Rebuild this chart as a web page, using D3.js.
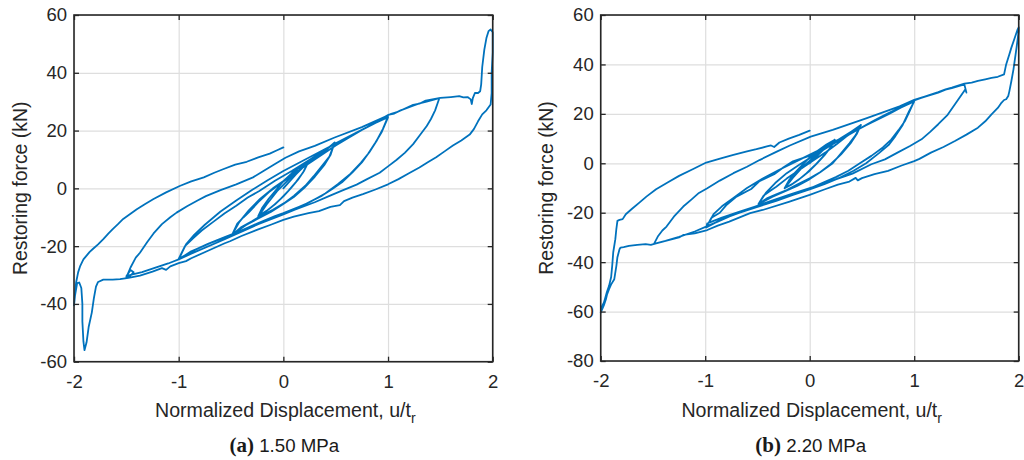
<!DOCTYPE html>
<html>
<head>
<meta charset="utf-8">
<script src="https://cdn.jsdelivr.net/npm/d3@7"></script>
<style>
  html, body { margin: 0; padding: 0; background: #ffffff; }
  svg { display: block; }
</style>
</head>
<body>
<svg id="chart" width="1024" height="460"></svg>
<script>
// ---------- tick labels ----------
const xTicks = [-2, -1, 0, 1, 2];
const yTicksA = [-60, -40, -20, 0, 20, 40, 60];
const yTicksB = [-80, -60, -40, -20, 0, 20, 40, 60];

// ---------- panel (a) 1.50 MPa : [u/tr, force kN] ----------
const a_init = [[0,0],[0.06,2.4],[0.12,4.8],[0.18,7],[0.24,9.2]];
const a_025_down = [[0.24,9.2],[0.2,6.2],[0.14,3],[0.07,0],[0,-2.8],[-0.08,-5.5],[-0.16,-7.8],[-0.24,-9.6]];
const a_025_up = [[-0.24,-9.6],[-0.2,-6.6],[-0.14,-3.6],[-0.07,-0.6],[0,2.5],[0.08,5.2],[0.16,7.4],[0.24,9.2]];
const a_025_down2 = [[0.24,9.2],[0.19,5.6],[0.12,2.2],[0.05,-0.8],[-0.03,-3.8],[-0.11,-6.4],[-0.18,-8.4],[-0.24,-9.8]];
const a_05_up1 = [[-0.24,-9.8],[-0.16,-5.6],[-0.06,-1],[0.06,3.4],[0.18,7.2],[0.3,10.4],[0.4,13.2],[0.49,15.8]];
const a_05_down = [[0.49,15.8],[0.44,11],[0.37,7.8],[0.29,4.2],[0.21,0.9],[0.1,-2.6],[0.02,-4.8],[-0.1,-7.4],[-0.21,-9.4],[-0.3,-11.4],[-0.4,-13.4],[-0.49,-16.1]];
const a_05_up = [[-0.49,-16.1],[-0.44,-12.2],[-0.38,-10],[-0.33,-8.3],[-0.24,-4.8],[-0.14,-1.4],[-0.03,1.6],[0.08,4.4],[0.19,7.3],[0.3,10.1],[0.4,13],[0.49,15.9]];
const a_05_down2 = [[0.49,15.9],[0.45,11.5],[0.39,8],[0.3,4],[0.2,0.2],[0.1,-3],[0,-5.4],[-0.12,-8.2],[-0.24,-10.4],[-0.36,-12.8],[-0.49,-16.1]];
const a_10_up1 = [[-0.49,-16.1],[-0.42,-11.6],[-0.33,-7.6],[-0.22,-3.6],[-0.1,0],[0.05,3.8],[0.2,7.6],[0.35,11.2],[0.5,14.8],[0.62,17.4],[0.75,20.2],[0.88,22.6],[1.0,24.6]];
const a_10_down = [[1.0,24.6],[0.94,19.5],[0.88,15.9],[0.81,12],[0.75,9],[0.66,5.5],[0.56,2.1],[0.46,-0.4],[0.37,-2.5],[0.18,-6],[0,-8.6],[-0.08,-9.6],[-0.24,-12],[-0.4,-14.6],[-0.56,-16.9],[-0.72,-19.2],[-0.85,-21.4],[-1.0,-24.4]];
const a_10_up = [[-1.0,-24.4],[-0.94,-20],[-0.86,-17.2],[-0.78,-14.6],[-0.67,-11.6],[-0.56,-8.6],[-0.45,-6],[-0.34,-3.2],[-0.23,-0.9],[-0.08,2.6],[0.08,6],[0.24,9.6],[0.4,13.4],[0.5,15.6],[0.62,17.8],[0.75,20.3],[0.87,22.5],[1.0,24.8]];
const a_10_down2 = [[1.0,24.8],[0.95,20.5],[0.89,16.4],[0.82,12.4],[0.74,8.8],[0.64,5],[0.52,1.4],[0.4,-1.8],[0.25,-4.8],[0.1,-7.2],[-0.1,-10.2],[-0.3,-13],[-0.5,-16.2],[-0.7,-19],[-0.88,-21.8],[-1.0,-24.6]];
const a_15_up1 = [[-1.0,-24.6],[-0.93,-19.4],[-0.85,-16],[-0.75,-12.6],[-0.6,-8],[-0.45,-4.2],[-0.3,-0.6],[-0.15,2.8],[0,6],[0.2,9.8],[0.4,13.6],[0.6,17.4],[0.8,21.2],[1.0,25.4],[1.06,25.9],[1.12,27],[1.24,28.6],[1.3,29.4],[1.36,29.9],[1.49,31.2]];
const a_15_down = [[1.49,31.2],[1.45,27],[1.41,24],[1.37,21.6],[1.3,18.2],[1.24,15.3],[1.16,12.3],[1.08,9.8],[1.0,7.6],[0.92,5.4],[0.8,3.2],[0.7,1.3],[0.56,-0.8],[0.43,-2.8],[0.3,-4.8],[0.11,-7.4],[0,-9],[-0.24,-12.4],[-0.56,-17.6],[-0.88,-22.6],[-1.0,-24.6],[-1.1,-26],[-1.2,-27.2],[-1.35,-29],[-1.44,-29.8],[-1.5,-30.4],[-1.46,-28.3],[-1.43,-29],[-1.47,-30.6],[-1.5,-30.8]];
const a_20_up = [[-1.5,-30.8],[-1.46,-27.4],[-1.41,-24],[-1.37,-22.3],[-1.3,-18.6],[-1.24,-15.6],[-1.16,-12.4],[-1.08,-10],[-1.02,-8.4],[-0.92,-6.2],[-0.82,-4.2],[-0.74,-2.7],[-0.6,-0.6],[-0.45,1.4],[-0.29,3.8],[-0.19,6],[-0.08,8.4],[0.02,10.6],[0.15,12.8],[0.3,14.7],[0.49,17.6],[0.75,21.2],[0.97,24.8],[1.03,25.8],[1.1,26.6],[1.24,28.9],[1.3,29.3],[1.36,30.4],[1.5,31.3],[1.6,31.6],[1.68,31.9],[1.72,31.5],[1.76,31.6],[1.79,30.8],[1.8,29.2],[1.81,31.2],[1.83,33],[1.86,33],[1.88,33.6],[1.89,36],[1.9,42],[1.92,48],[1.94,52],[1.96,54.4],[1.98,55],[2.0,54]];
const a_20_down = [[2.0,54],[2.0,47],[1.99,40],[1.99,33],[1.98,29],[1.94,27],[1.9,25.6],[1.86,23.2],[1.82,20.5],[1.78,18.6],[1.7,16.6],[1.62,14.8],[1.54,12.8],[1.46,10.8],[1.38,9],[1.3,7.2],[1.2,5.2],[1.1,3.2],[1.0,1.4],[0.88,-0.4],[0.76,-2],[0.66,-3.2],[0.58,-4.4],[0.54,-5.8],[0.45,-6.4],[0.34,-7.9],[0.24,-8.6],[0.1,-9.8],[0,-10.9],[-0.12,-12.6],[-0.24,-14.2],[-0.4,-16.5],[-0.51,-18.3],[-0.56,-19],[-0.72,-21.6],[-0.88,-24.2],[-0.93,-25.2],[-1.0,-25.9],[-1.08,-27],[-1.12,-28.2],[-1.16,-27.6],[-1.25,-28.8],[-1.37,-30.2],[-1.48,-31],[-1.56,-31.4],[-1.63,-31.6],[-1.72,-31.6],[-1.77,-32.4],[-1.79,-34],[-1.81,-38],[-1.83,-43],[-1.86,-48],[-1.88,-53.3],[-1.9,-56],[-1.91,-53],[-1.92,-46],[-1.92,-40],[-1.93,-34.5],[-1.95,-32.6],[-1.97,-32.8],[-1.99,-37],[-2.0,-40.5]];
const a_final = [[-2.0,-40.5],[-1.99,-36],[-1.98,-32.6],[-1.96,-29],[-1.94,-26.8],[-1.91,-24.6],[-1.88,-23.3],[-1.85,-22],[-1.82,-21],[-1.77,-19.4],[-1.72,-17.6],[-1.67,-15.6],[-1.63,-14.1],[-1.58,-12.4],[-1.53,-10.6],[-1.46,-8.8],[-1.4,-7.2],[-1.32,-5.4],[-1.24,-3.7],[-1.12,-1.4],[-0.99,0.8],[-0.88,2.4],[-0.76,3.8],[-0.66,5.4],[-0.57,6.7],[-0.46,8.2],[-0.35,9.2],[-0.24,10.7],[-0.13,12],[-0.06,13.2],[0,14.2]];

// ---------- panel (b) 2.20 MPa ----------
const b_init = [[0,0],[0.06,2.5],[0.12,5],[0.18,7.4],[0.24,9.5]];
const b_025_down = [[0.24,9.5],[0.2,6.4],[0.14,3.2],[0.07,0],[0,-3],[-0.08,-5.8],[-0.16,-8.2],[-0.24,-10.1]];
const b_025_up = [[-0.24,-10.1],[-0.2,-7],[-0.14,-3.8],[-0.07,-0.6],[0,2.4],[0.08,5.2],[0.16,7.6],[0.24,9.5]];
const b_025_down2 = [[0.24,9.5],[0.19,5.8],[0.12,2.4],[0.05,-0.8],[-0.03,-4],[-0.11,-6.8],[-0.18,-8.8],[-0.24,-10.1]];
const b_05_up1 = [[-0.24,-10.1],[-0.16,-5.8],[-0.06,-1.2],[0.06,3.2],[0.18,7],[0.3,10.2],[0.4,12.9],[0.49,15.5]];
const b_05_down = [[0.49,15.5],[0.44,11.4],[0.38,8.1],[0.3,4],[0.22,0],[0.1,-3.6],[0,-6.1],[-0.12,-8.6],[-0.22,-10.8],[-0.32,-12.6],[-0.41,-14.2],[-0.49,-16.5]];
const b_05_up = [[-0.49,-16.5],[-0.44,-13],[-0.38,-11.2],[-0.32,-9.5],[-0.22,-6.2],[-0.1,-2.7],[0.03,1],[0.16,4.7],[0.26,7.8],[0.35,10.8],[0.43,13.2],[0.49,15.5]];
const b_05_down2 = [[0.49,15.5],[0.45,11.8],[0.39,8],[0.3,3.6],[0.2,-0.4],[0.1,-3.6],[0,-6.4],[-0.12,-9.2],[-0.24,-11.4],[-0.36,-13.6],[-0.49,-16.5]];
const b_10_up1 = [[-0.49,-16.5],[-0.42,-12],[-0.33,-8],[-0.22,-4],[-0.1,-0.6],[0.05,3.4],[0.2,7.2],[0.35,11],[0.5,14.6],[0.62,17.4],[0.75,20.2],[0.88,22.8],[1.0,25.2]];
const b_10_down = [[1.0,25.2],[0.95,20.5],[0.91,17],[0.85,13.4],[0.78,9.6],[0.7,6.4],[0.59,3],[0.48,0],[0.37,-3],[0.25,-5.6],[0.14,-7.6],[0,-10.2],[-0.16,-12.6],[-0.32,-14.9],[-0.5,-17.2],[-0.67,-19.6],[-0.84,-22],[-0.98,-24.3],[-0.99,-26]];
const b_10_up = [[-0.99,-26],[-0.94,-22],[-0.86,-20],[-0.8,-17],[-0.7,-13.5],[-0.56,-10.4],[-0.48,-7.2],[-0.34,-4.4],[-0.25,-1.6],[-0.16,0.8],[0.01,3.2],[0.22,8.4],[0.38,11.8],[0.54,15.5],[0.7,19],[0.86,22.3],[1.0,25]];
const b_10_down2 = [[1.0,25],[0.95,21],[0.89,15.5],[0.82,11],[0.76,7.6],[0.66,4],[0.54,0],[0.42,-3],[0.29,-5.8],[0.14,-8.4],[0,-10.6],[-0.16,-12.8],[-0.32,-15.2],[-0.5,-17.6],[-0.67,-20],[-0.84,-22.6],[-0.99,-26]];
const b_15_up1 = [[-0.99,-26],[-0.92,-20.6],[-0.84,-17.4],[-0.73,-14],[-0.6,-10],[-0.45,-6.2],[-0.3,-2.8],[-0.1,1.4],[0.1,5.6],[0.3,10],[0.54,15.4],[0.75,19.8],[1.0,25.4],[1.06,26.4],[1.12,27.2],[1.23,28.6],[1.3,29.8],[1.36,30.4],[1.48,31.9]];
const b_15_down = [[1.48,31.9],[1.5,28.6],[1.49,30],[1.45,27.5],[1.39,23.9],[1.32,19.6],[1.23,15.8],[1.15,12.6],[1.07,9.7],[0.96,7],[0.84,4.3],[0.72,1.6],[0.59,-0.4],[0.41,-4.2],[0.27,-6.2],[0.12,-8.4],[0,-10],[-0.2,-12.8],[-0.41,-15.8],[-0.57,-18.2],[-0.73,-20.8],[-0.88,-23.6],[-0.98,-25.4],[-1.1,-27.6],[-1.25,-29.8],[-1.38,-31.4],[-1.49,-32.6]];
const b_20_up = [[-1.49,-32.6],[-1.45,-29.4],[-1.41,-27.2],[-1.37,-25.6],[-1.3,-21.6],[-1.21,-17.5],[-1.13,-14.6],[-1.06,-12],[-0.98,-10.1],[-0.86,-7],[-0.73,-4],[-0.6,-1.4],[-0.48,1.3],[-0.32,4.6],[-0.19,7.2],[0.01,10.8],[0.22,13.5],[0.54,18.2],[0.86,23],[1.0,25.7],[1.1,27],[1.23,28.8],[1.3,29.9],[1.36,30.6],[1.48,32.2],[1.55,32.6],[1.61,33.3],[1.68,34],[1.74,34.6],[1.8,35],[1.86,36],[1.88,40],[1.91,44],[1.93,46.8],[1.96,50.5],[1.99,54.2],[2.0,55]];
const b_20_down = [[2.0,55],[2.0,53.5],[1.98,47],[1.97,44],[1.95,38],[1.93,33.3],[1.91,29],[1.9,27.2],[1.88,25.9],[1.86,25.6],[1.83,24.2],[1.8,22.4],[1.74,19.8],[1.68,17],[1.61,14.4],[1.5,11.6],[1.39,9],[1.28,6.6],[1.16,4.3],[1.05,1.8],[1.0,0.9],[0.88,-0.9],[0.75,-3.1],[0.62,-4.4],[0.5,-6],[0.46,-6.9],[0.44,-5.9],[0.38,-7.4],[0.27,-8.6],[0.14,-10.6],[0,-12.8],[-0.2,-15.6],[-0.45,-18.9],[-0.57,-20.2],[-0.77,-23.6],[-0.88,-25.2],[-0.98,-27],[-1.1,-28.4],[-1.21,-29],[-1.25,-30],[-1.36,-31.2],[-1.47,-32.4],[-1.52,-33],[-1.57,-32.7],[-1.65,-33],[-1.73,-33.4],[-1.78,-33.9],[-1.81,-34.1],[-1.82,-34.8],[-1.84,-38],[-1.85,-41.5],[-1.87,-46.9],[-1.9,-49],[-1.92,-50.9],[-1.94,-53.2],[-1.95,-55],[-1.97,-57.5],[-2.0,-60.4]];
const b_final = [[-2.0,-60.4],[-1.99,-58],[-1.97,-56.4],[-1.96,-55],[-1.94,-52],[-1.92,-49.6],[-1.9,-46],[-1.89,-41.5],[-1.88,-36],[-1.86,-30.7],[-1.85,-26.5],[-1.84,-23.3],[-1.82,-22.9],[-1.79,-22.6],[-1.76,-20.6],[-1.7,-18.4],[-1.63,-15.9],[-1.56,-13.4],[-1.47,-10.5],[-1.36,-7.8],[-1.25,-5.1],[-1.12,-2.4],[-0.99,0.3],[-0.85,2],[-0.73,3.4],[-0.6,4.8],[-0.51,5.7],[-0.41,6.8],[-0.37,7.2],[-0.34,6.6],[-0.29,8.4],[-0.2,10],[-0.1,11.5],[0,13.2]];

const seriesA = [a_init, a_025_down, a_025_up, a_025_down2, a_05_up1, a_05_down, a_05_up, a_05_down2,
  a_10_up1, a_10_down, a_10_up, a_10_down2, a_15_up1, a_15_down, a_20_up, a_20_down, a_final];
const seriesB = [b_init, b_025_down, b_025_up, b_025_down2, b_05_up1, b_05_down, b_05_up, b_05_down2,
  b_10_up1, b_10_down, b_10_up, b_10_down2, b_15_up1, b_15_down, b_20_up, b_20_down, b_final];

const captionLetters = ["(a)", "(b)"];
const captionTexts = [" 1.50 MPa", " 2.20 MPa"];

// ---------- drawing ----------
const SANS = '"Liberation Sans", Arial, Helvetica, sans-serif';
const SERIF = '"Liberation Serif", "Times New Roman", serif';
const INK = "#262626";
const BLUE = "#0072BD";
const svg = d3.select("#chart");

function fmt(d) { return d < 0 ? "-" + Math.abs(d) : String(d); }

function panel(cfg) {
  const x = d3.scaleLinear().domain([-2, 2]).range([cfg.left, cfg.right]);
  const y = d3.scaleLinear().domain(cfg.yDomain).range([cfg.bottom, cfg.top]);
  const W = cfg.right - cfg.left, H = cfg.bottom - cfg.top;
  const g = svg.append("g");

  // grid
  g.append("g").attr("transform", `translate(0,${cfg.bottom})`)
    .call(d3.axisBottom(x).tickValues(xTicks).tickSize(-H).tickFormat(""))
    .call(s => { s.select(".domain").remove(); s.selectAll("line").attr("stroke", "#dedede").attr("stroke-width", 1.2); });
  g.append("g").attr("transform", `translate(${cfg.left},0)`)
    .call(d3.axisLeft(y).tickValues(cfg.yTicks).tickSize(-W).tickFormat(""))
    .call(s => { s.select(".domain").remove(); s.selectAll("line").attr("stroke", "#dedede").attr("stroke-width", 1.2); });

  // data line
  const pts = [];
  cfg.series.forEach((seg, i) => seg.forEach((p, j) => { if (i === 0 || j > 0) pts.push(p); }));
  g.append("path").datum(pts)
    .attr("fill", "none").attr("stroke", BLUE).attr("stroke-width", 1.8)
    .attr("stroke-linejoin", "round").attr("stroke-linecap", "round")
    .attr("d", d3.line().x(d => x(d[0])).y(d => y(d[1])));

  // axes with inward ticks
  const styleAxis = s => {
    s.select(".domain").remove();
    s.selectAll("line").attr("stroke", INK).attr("stroke-width", 1.3);
    s.selectAll("text").attr("fill", INK).style("font-family", SANS).style("font-size", "18.5px");
  };
  g.append("g").attr("transform", `translate(0,${cfg.bottom})`)
    .call(d3.axisBottom(x).tickValues(xTicks).tickSizeInner(-5).tickSizeOuter(0).tickPadding(13).tickFormat(fmt))
    .call(styleAxis);
  g.append("g").attr("transform", `translate(0,${cfg.top})`)
    .call(d3.axisTop(x).tickValues(xTicks).tickSizeInner(-5).tickSizeOuter(0).tickFormat(""))
    .call(styleAxis);
  g.append("g").attr("transform", `translate(${cfg.left},0)`)
    .call(d3.axisLeft(y).tickValues(cfg.yTicks).tickSizeInner(-5).tickSizeOuter(0).tickPadding(7).tickFormat(fmt))
    .call(styleAxis);
  g.append("g").attr("transform", `translate(${cfg.right},0)`)
    .call(d3.axisRight(y).tickValues(cfg.yTicks).tickSizeInner(-5).tickSizeOuter(0).tickFormat(""))
    .call(styleAxis);

  g.append("rect").attr("x", cfg.left).attr("y", cfg.top).attr("width", W).attr("height", H)
    .attr("fill", "none").attr("stroke", INK).attr("stroke-width", 1.6);

  const cx = (cfg.left + cfg.right) / 2;
  const xt = g.append("text").attr("x", cx + 2).attr("y", 416.5)
    .attr("text-anchor", "middle").attr("fill", INK)
    .style("font-family", SANS).style("font-size", "19.6px");
  xt.append("tspan").text("Normalized Displacement, u/t");
  xt.append("tspan").attr("dy", 6).style("font-size", "14px").text("r");

  g.append("text").attr("transform", `translate(${cfg.ylabX},${(cfg.top + cfg.bottom) / 2}) rotate(-90)`)
    .attr("text-anchor", "middle").attr("fill", INK)
    .style("font-family", SANS).style("font-size", "19.4px")
    .text("Restoring force (kN)");

  const cap = g.append("text").attr("x", cx + 1).attr("y", 451.5)
    .attr("text-anchor", "middle").attr("fill", "#1a1a1a");
  cap.append("tspan").style("font-family", SERIF).style("font-weight", "bold").style("font-size", "21px").text(cfg.capLetter);
  cap.append("tspan").style("font-family", SANS).style("font-size", "18.7px").text(cfg.capText);
}

panel({ left: 74, right: 492.7, top: 15, bottom: 361.7, yDomain: [-60, 60], yTicks: yTicksA,
        series: seriesA, ylabX: 27, capLetter: captionLetters[0], capText: captionTexts[0] });
panel({ left: 600.7, right: 1018.7, top: 15, bottom: 361, yDomain: [-80, 60], yTicks: yTicksB,
        series: seriesB, ylabX: 553, capLetter: captionLetters[1], capText: captionTexts[1] });
</script>
</body>
</html>
